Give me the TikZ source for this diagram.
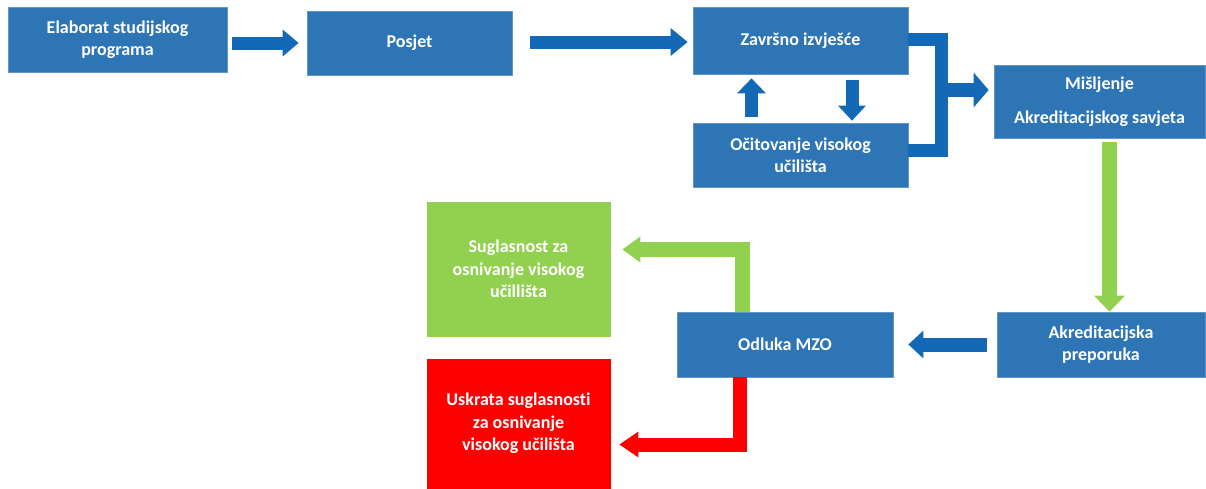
\documentclass[tikz,border=0pt]{standalone}
\usepackage{fontspec}
\setmainfont{Carlito}[Ligatures=NoCommon]
\usetikzlibrary{arrows.meta}
\definecolor{boxblue}{HTML}{2E75B6}
\definecolor{arrblue}{HTML}{1369B6}
\definecolor{agreen}{HTML}{92D050}
\definecolor{ared}{HTML}{FF0000}
\tikzset{
  box/.style={fill=boxblue, draw=boxblue!75!white, line width=0.8pt, text=white,
    font=\fontsize{18}{22.5}\selectfont\bfseries, align=center, inner sep=0pt},
  barrow/.style={draw=arrblue, line width=13pt, line join=miter,
    -{Triangle[length=16pt,width=28pt,line width=0pt]}},
  band/.style={draw=arrblue, line width=13pt, line join=miter},
}
\begin{document}
\begin{tikzpicture}[x=1pt,y=-1pt]
\useasboundingbox (0,0) rectangle (1206,488);
\fill[white] (0,0) rectangle (1206,488);
% boxes
\node[box, minimum width=219pt, minimum height=65pt] (elab) at (117.5,39.5) {Elaborat studijskog\\programa};
\node[box, minimum width=205pt, minimum height=64pt] (posjet) at (409.5,43) {Posjet};
\node[box, minimum width=215pt, minimum height=67pt] (zav) at (800.5,40.5) {Završno izvješće};
\node[box, minimum width=215pt, minimum height=64pt] (oci) at (800.5,155) {Očitovanje visokog\\učilišta};
\node[box, minimum width=211pt, minimum height=73pt] (mis) at (1099.5,101.5) {Mišljenje\\[11.5pt]Akreditacijskog savjeta};
\node[box, minimum width=208pt, minimum height=65pt] (akr) at (1101,344.5) {Akreditacijska\\preporuka};
\node[box, minimum width=216pt, minimum height=65pt] (odl) at (785,344.5) {Odluka MZO};
\node[box, fill=agreen, draw=agreen, minimum width=183pt, minimum height=134pt] (sug) at (518.5,269) {Suglasnost za\\osnivanje visokog\\učillišta};
\node[box, fill=ared, draw=ared, minimum width=183pt, minimum height=129pt] (usk) at (518.5,423.5) {Uskrata suglasnosti\\za osnivanje\\visokog učilišta};
% top row arrows
\draw[barrow, line width=13pt, -{Triangle[length=16pt,width=27pt,line width=0pt]}]
  ([shift={(5,3.5)}]elab.east) -- ([shift={(-8,0)}]posjet.west);
\draw[barrow, line width=13pt, -{Triangle[length=17pt,width=28pt,line width=0pt]}]
  ([shift={(18,-1)}]posjet.east) -- ([shift={(-5,1.5)}]zav.west);
% loop between report and response
\draw[barrow, -{Triangle[length=15pt,width=29pt,line width=0pt]}]
  ([shift={(-49,-6)}]oci.north) -- ([shift={(-49,4)}]zav.south);
\draw[barrow, -{Triangle[length=15pt,width=28pt,line width=0pt]}]
  ([shift={(51.5,6)}]zav.south) -- ([shift={(51.5,-2)}]oci.north);
% bracket
\coordinate (brk) at (941.5,90);
\draw[band] ([yshift=1pt]zav.east) -| (brk) |- ([yshift=5pt]oci.east);
\draw[barrow, line width=14pt, -{Triangle[length=15pt,width=35pt,line width=0pt]}]
  (brk) -- ([xshift=-5pt]brk -| mis.west);
% down to recommendation
\draw[barrow, draw=agreen, line width=15pt, -{Triangle[length=16pt,width=31pt,line width=0pt]}]
  ([shift={(10,4)}]mis.south) -- ([xshift=8.5pt]akr.north);
% recommendation to decision
\draw[barrow, line width=14pt, -{Triangle[length=15pt,width=28pt,line width=0pt]}]
  ([xshift=-10pt]akr.west) -- ([xshift=15pt]odl.east);
% decision outcomes
\coordinate (gc) at (742.5,249.5);
\coordinate (rc) at (740,444.5);
\draw[barrow, draw=agreen, line width=15pt, -{Triangle[length=18pt,width=26pt,line width=0pt]}]
  (gc |- odl.north) |- ([xshift=12pt]sug.east |- gc);
\draw[barrow, draw=ared, line width=14pt, -{Triangle[length=19pt,width=26pt,line width=0pt]}]
  (rc |- odl.south) |- ([xshift=9pt]usk.east |- rc);
\end{tikzpicture}
\end{document}
